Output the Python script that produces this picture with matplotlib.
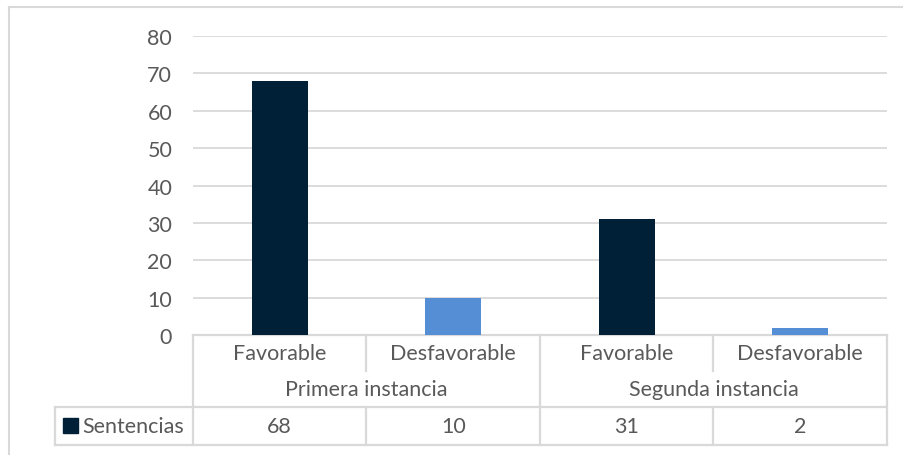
import matplotlib
matplotlib.use("Agg")
import matplotlib.pyplot as plt
from matplotlib.patches import Rectangle
from matplotlib.transforms import blended_transform_factory

# datos del gráfico
outcomes = ["Favorable", "Desfavorable", "Favorable", "Desfavorable"]
instances = ["Primera instancia", "Segunda instancia"]
series_name = "Sentencias"
values = [68, 10, 31, 2]
bar_colors = ["#002037", "#558ED5", "#002037", "#558ED5"]

plt.rcParams["font.family"] = ["Lato", "DejaVu Sans"]
text_color = "#595959"
line_color = "#D9D9D9"

fig = plt.figure(figsize=(9.04, 4.56), dpi=100)
W, H = 904, 456
ax = fig.add_axes([193 / W, (H - 336) / H, 694 / W, 299 / H])

fs = 15.5

x = list(range(len(values)))
ax.bar(x, values, width=0.32, color=bar_colors, zorder=3)
ax.set_xlim(-0.5, len(values) - 0.5)
ax.set_ylim(0, 80)
ax.set_yticks(range(0, 81, 10))
ax.tick_params(axis="y", length=0, pad=15, labelsize=fs, labelcolor=text_color)
ax.set_xticks([])
ax.grid(axis="y", color=line_color, linewidth=1.3, zorder=0)
for s in ax.spines.values():
    s.set_visible(False)

# tabla de datos bajo el eje
tr = blended_transform_factory(ax.transData, ax.transAxes)
rh = 36 / 299
y0, y1, y2, y3 = 0, -rh, -2 * rh, -3.05 * rh
left = -0.5 - 138 / 173.5
right = len(values) - 0.5
lk = dict(color=line_color, linewidth=1.6, transform=tr, clip_on=False)

ax.plot([-0.5, right], [y0, y0], **lk)
ax.plot([left, right], [y2, y2], **lk)
ax.plot([left, right], [y3, y3], **lk)
ax.plot([left, left], [y2, y3], **lk)
for b in [-0.5, 1.5, 3.5]:
    ax.plot([b, b], [y0, y3], **lk)
for b in [0.5, 2.5]:
    ax.plot([b, b], [y0, y1], **lk)
    ax.plot([b, b], [y2, y3], **lk)

for i, lab in enumerate(outcomes):
    ax.text(i, (y0 + y1) / 2, lab, transform=tr, ha="center", va="center",
            fontsize=fs, color=text_color)
    ax.text(i, (y2 + y3) / 2, str(values[i]), transform=tr, ha="center",
            va="center", fontsize=fs, color=text_color)
for j, lab in enumerate(instances):
    ax.text(2 * j + 0.5, (y1 + y2) / 2, lab, transform=tr, ha="center",
            va="center", fontsize=fs, color=text_color)

# clave de la leyenda
ax.add_patch(Rectangle((left + 0.045, (y2 + y3) / 2 - 0.025), 0.087, 0.05,
                       transform=tr, color=bar_colors[0], clip_on=False))
ax.text(left + 0.155, (y2 + y3) / 2, series_name, transform=tr, ha="left",
        va="center", fontsize=fs, color=text_color)

# borde exterior
fig.add_artist(plt.Line2D([8.5 / W, 8.5 / W], [0, 1 - 8 / H], color=line_color,
                          linewidth=1.5))
fig.add_artist(plt.Line2D([8.5 / W, 1], [1 - 8 / H, 1 - 8 / H], color=line_color,
                          linewidth=1.5))

fig.savefig("out.png", dpi=100)
